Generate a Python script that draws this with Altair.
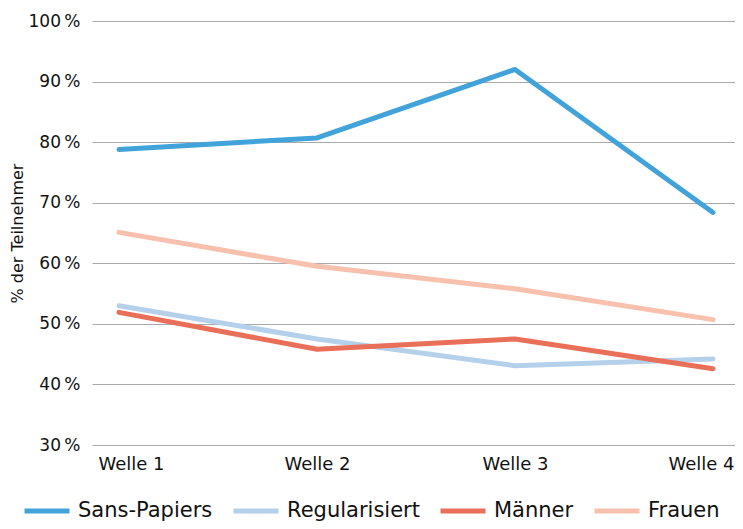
import altair as alt
import pandas as pd

waves = ["Welle 1", "Welle 2", "Welle 3", "Welle 4"]
series_names = ["Sans-Papiers", "Regularisiert", "Männer", "Frauen"]
sans_papiers = [78.8, 80.7, 92.0, 68.4]
regularisiert = [53.0, 47.5, 43.1, 44.2]
maenner = [51.9, 45.8, 47.5, 42.6]
frauen = [65.1, 59.5, 55.8, 50.7]
colors = ["#41a3da", "#b4d0eb", "#e96f59", "#f8c1ad"]
y_ticks = [30, 40, 50, 60, 70, 80, 90, 100]

rows = []
for name, vals in zip(series_names, [sans_papiers, regularisiert, maenner, frauen]):
    for w, v in zip(waves, vals):
        rows.append({"Welle": w, "Serie": name, "Wert": v})
df = pd.DataFrame(rows)

FONT = "DejaVu Sans"
TXT = "#111111"

chart = alt.Chart(df).mark_line(strokeWidth=5, strokeCap="round", strokeJoin="round").encode(
    x=alt.X("Welle:N", sort=waves,
            scale=alt.Scale(type="point", padding=0.1237, align=0.551),
            axis=alt.Axis(title=None, labelAngle=0, domain=False, ticks=False, grid=False,
                          labelFontSize=18, labelPadding=10, labelColor=TXT, labelFont=FONT,
                          labelFlush=40, labelFlushOffset=21)),
    y=alt.Y("Wert:Q", scale=alt.Scale(domain=[30, 100], nice=False, zero=False),
            axis=alt.Axis(title="% der Teilnehmer", values=y_ticks, domain=False, ticks=False,
                          grid=True, gridColor="#aaaaaa", gridWidth=1.2,
                          labelExpr="datum.value + '\u202f%'",
                          labelFontSize=17, labelPadding=12, labelColor=TXT, labelFont=FONT,
                          titleFontSize=16, titleFontWeight="normal", titleColor=TXT,
                          titleFont=FONT, titleX=-75, titleBaseline="middle")),
    color=alt.Color("Serie:N", sort=series_names,
                    scale=alt.Scale(domain=series_names, range=colors),
                    legend=alt.Legend(title=None, orient="none", direction="horizontal",
                                      legendX=-70, legendY=465,
                                      symbolType="stroke", symbolSize=2025, symbolStrokeWidth=5,
                                      labelFontSize=21, labelFont=FONT, labelColor=TXT,
                                      labelOffset=6, columnPadding=10)),
    order=alt.Order("Serie:N"),
).properties(
    width=643, height=424,
    autosize=alt.AutoSizeParams(type="none"),
    padding={"left": 84, "top": 13, "right": 0, "bottom": 76},
).configure_view(stroke=None)

chart.save("out.html", embed_options={"renderer": "svg", "actions": False})
